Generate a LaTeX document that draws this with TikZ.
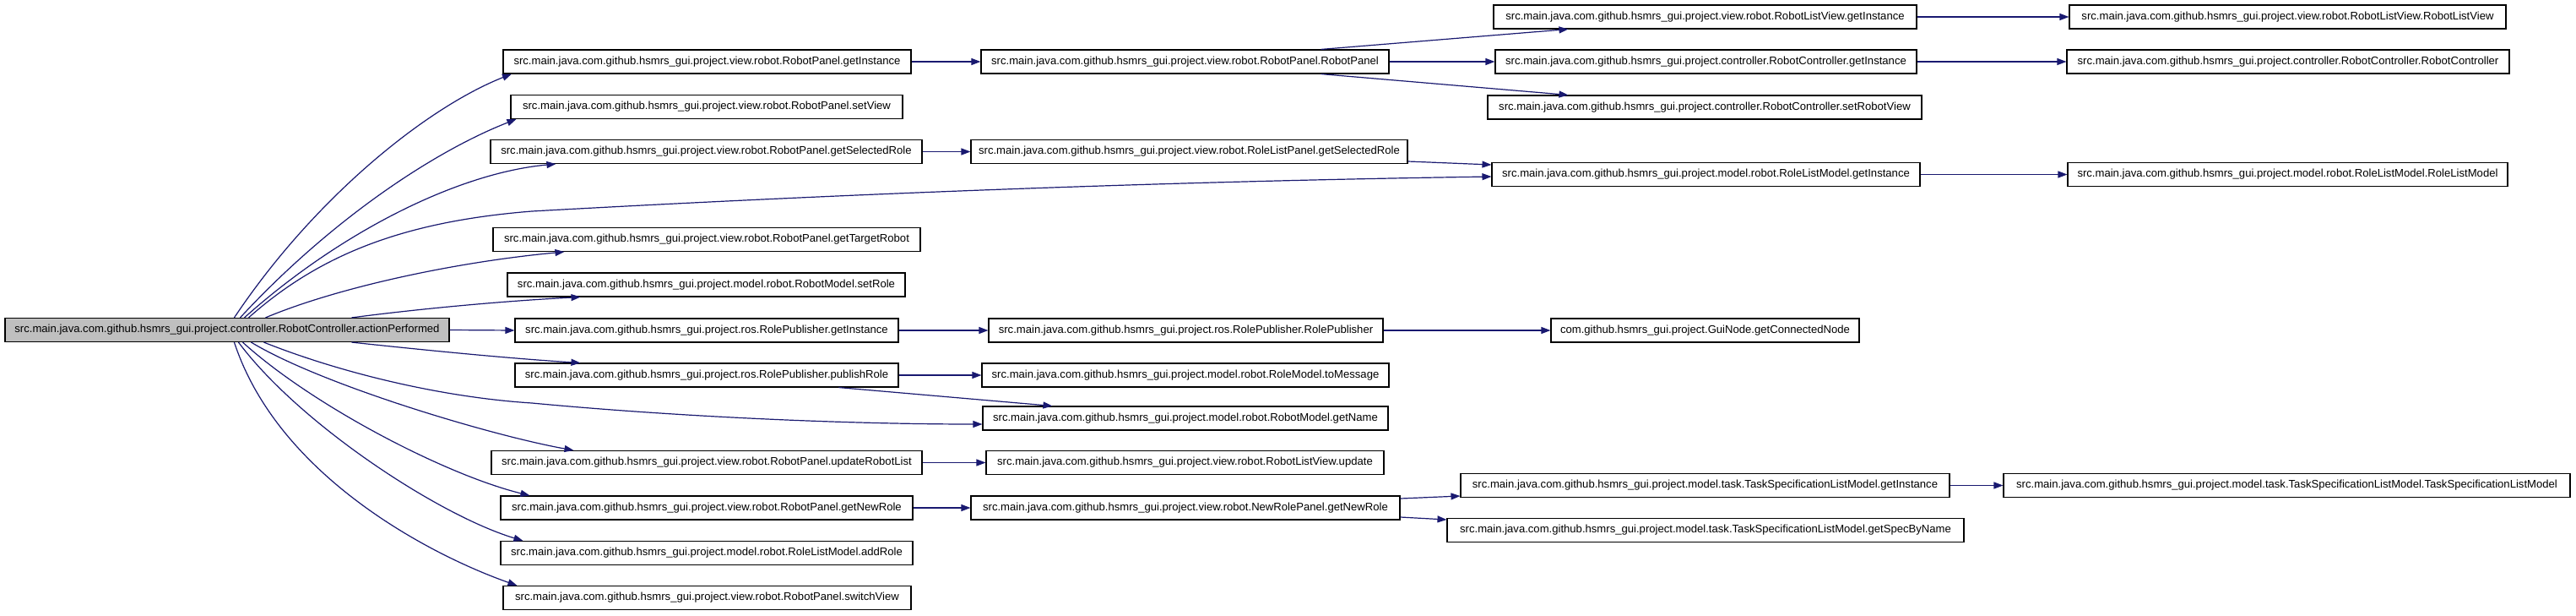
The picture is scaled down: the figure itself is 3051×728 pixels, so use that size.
\documentclass[tikz,border=0pt]{standalone}
\usepackage{fontspec}
\setmainfont{Liberation Sans}
\usetikzlibrary{arrows.meta}
\definecolor{edgecol}{HTML}{191970}
\definecolor{rootfill}{HTML}{BFBFBF}
\begin{document}
\begin{tikzpicture}[x=1pt,y=-1pt,
  fnbox/.style={draw=black, line width=1.1pt, fill=white, minimum height=28pt, inner sep=0pt,
    font=\fontsize{13.1pt}{15pt}\selectfont},
  rootbox/.style={fnbox, fill=rootfill},
  call/.style={draw=edgecol, line width=1.2pt, -{Triangle[length=11pt,width=8pt]}}]
\useasboundingbox[fill=white] (0,0) rectangle (3051,728);

% root
\node[rootbox, minimum width=526pt] (root) at (269,390.5) {src.main.java.com.github.hsmrs\_gui.project.controller.RobotController.actionPerformed};

% column 2
\node[fnbox, minimum width=483pt] (A1) at (837.5,73) {src.main.java.com.github.hsmrs\_gui.project.view.robot.RobotPanel.getInstance};
\node[fnbox, minimum width=464pt] (A2) at (837,126.5) {src.main.java.com.github.hsmrs\_gui.project.view.robot.RobotPanel.setView};
\node[fnbox, minimum width=511pt] (A3) at (836.5,179.5) {src.main.java.com.github.hsmrs\_gui.project.view.robot.RobotPanel.getSelectedRole};
\node[fnbox, minimum width=506pt] (A4) at (837,283.5) {src.main.java.com.github.hsmrs\_gui.project.view.robot.RobotPanel.getTargetRobot};
\node[fnbox, minimum width=471pt] (A5) at (836.5,337) {src.main.java.com.github.hsmrs\_gui.project.model.robot.RobotModel.setRole};
\node[fnbox, minimum width=454pt] (A6) at (837,391) {src.main.java.com.github.hsmrs\_gui.project.ros.RolePublisher.getInstance};
\node[fnbox, minimum width=454pt] (A7) at (837,444) {src.main.java.com.github.hsmrs\_gui.project.ros.RolePublisher.publishRole};
\node[fnbox, minimum width=510pt] (A8) at (837,547.5) {src.main.java.com.github.hsmrs\_gui.project.view.robot.RobotPanel.updateRobotList};
\node[fnbox, minimum width=488pt] (A9) at (837,601) {src.main.java.com.github.hsmrs\_gui.project.view.robot.RobotPanel.getNewRole};
\node[fnbox, minimum width=488pt] (A10) at (837,654.5) {src.main.java.com.github.hsmrs\_gui.project.model.robot.RoleListModel.addRole};
\node[fnbox, minimum width=483pt] (A11) at (837.5,707.5) {src.main.java.com.github.hsmrs\_gui.project.view.robot.RobotPanel.switchView};

% column 3
\node[fnbox, minimum width=483pt] (B1) at (1403.5,73) {src.main.java.com.github.hsmrs\_gui.project.view.robot.RobotPanel.RobotPanel};
\node[fnbox, minimum width=517pt] (B2) at (1408.5,179.5) {src.main.java.com.github.hsmrs\_gui.project.view.robot.RoleListPanel.getSelectedRole};
\node[fnbox, minimum width=467pt] (B3) at (1404.5,391) {src.main.java.com.github.hsmrs\_gui.project.ros.RolePublisher.RolePublisher};
\node[fnbox, minimum width=482pt] (B4) at (1404,444) {src.main.java.com.github.hsmrs\_gui.project.model.robot.RoleModel.toMessage};
\node[fnbox, minimum width=480pt] (B5) at (1404,495) {src.main.java.com.github.hsmrs\_gui.project.model.robot.RobotModel.getName};
\node[fnbox, minimum width=471pt] (B6) at (1403.5,547.5) {src.main.java.com.github.hsmrs\_gui.project.view.robot.RobotListView.update};
\node[fnbox, minimum width=508pt] (B7) at (1404,601) {src.main.java.com.github.hsmrs\_gui.project.view.robot.NewRolePanel.getNewRole};

% column 4
\node[fnbox, minimum width=501pt] (C1) at (2019.5,20) {src.main.java.com.github.hsmrs\_gui.project.view.robot.RobotListView.getInstance};
\node[fnbox, minimum width=499pt] (C2) at (2020.5,73) {src.main.java.com.github.hsmrs\_gui.project.controller.RobotController.getInstance};
\node[fnbox, minimum width=514pt] (C3) at (2019,127) {src.main.java.com.github.hsmrs\_gui.project.controller.RobotController.setRobotView};
\node[fnbox, minimum width=507pt] (C4) at (2020.5,206.5) {src.main.java.com.github.hsmrs\_gui.project.model.robot.RoleListModel.getInstance};
\node[fnbox, minimum width=365pt] (C5) at (2019.5,391) {com.github.hsmrs\_gui.project.GuiNode.getConnectedNode};
\node[fnbox, minimum width=579pt] (C6) at (2019.5,574.5) {src.main.java.com.github.hsmrs\_gui.project.model.task.TaskSpecificationListModel.getInstance};
\node[fnbox, minimum width=612pt] (C7) at (2020,627.5) {src.main.java.com.github.hsmrs\_gui.project.model.task.TaskSpecificationListModel.getSpecByName};

% column 5
\node[fnbox, minimum width=517pt] (D1) at (2709.5,20) {src.main.java.com.github.hsmrs\_gui.project.view.robot.RobotListView.RobotListView};
\node[fnbox, minimum width=524pt] (D2) at (2710,73) {src.main.java.com.github.hsmrs\_gui.project.controller.RobotController.RobotController};
\node[fnbox, minimum width=521pt] (D3) at (2709.5,206.5) {src.main.java.com.github.hsmrs\_gui.project.model.robot.RoleListModel.RoleListModel};
\node[fnbox, minimum width=671pt] (D4) at (2708.5,574.5) {src.main.java.com.github.hsmrs\_gui.project.model.task.TaskSpecificationListModel.TaskSpecificationListModel};

% root fan, upper side
\draw[call] ([xshift=272pt]root.north west) .. controls (373,233) and (506,127) .. ([xshift=10.5pt]A1.south west);
\draw[call] ([xshift=279pt]root.north west) .. controls (390,262) and (512,180) .. ([xshift=7pt]A2.south west);
\draw[call] ([xshift=284pt]root.north west) .. controls (400,277) and (540,205) .. ([xshift=78pt]A3.south west);
\draw[call] ([xshift=289pt]root.north west) .. controls (380,300) and (480,262) .. (630,250)
   .. controls (900,235) and (1300,216) .. ([yshift=-2.5pt]C4.west);
\draw[call] ([xshift=309pt]root.north west) .. controls (400,340) and (540,310) .. ([xshift=85pt]A4.south west);
\draw[call] ([xshift=411pt]root.north west) .. controls (500,365) and (600,356) .. ([xshift=87pt]A5.south west);
\draw[call] (root.east) -- (A6.west);
% root fan, lower side
\draw[call] ([xshift=411pt]root.south west) .. controls (500,414) and (600,424) .. ([xshift=78pt]A7.north west);
\draw[call] ([xshift=307pt]root.south west) .. controls (400,440) and (520,470) .. (630,477)
   .. controls (800,493) and (1000,502) .. ([yshift=-7pt]B5.west);
\draw[call] ([xshift=292pt]root.south west) .. controls (380,455) and (580,515) .. ([xshift=98pt]A8.north west);
\draw[call] ([xshift=282pt]root.south west) .. controls (370,480) and (528,562) .. ([xshift=35pt]A9.north west);
\draw[call] ([xshift=277pt]root.south west) .. controls (355,502) and (520,610) .. ([xshift=27pt]A10.north west);
\draw[call] ([xshift=272pt]root.south west) .. controls (330,565) and (513,658) .. ([xshift=17pt]A11.north west);

% further calls
\draw[call] (A1.east) -- (B1.west);
\draw[call] ([xshift=403pt]B1.north west) -- ([xshift=89pt]C1.south west);
\draw[call] (B1.east) -- (C2.west);
\draw[call] ([xshift=403pt]B1.south west) -- ([xshift=96pt]C3.north west);
\draw[call] (C1.east) -- (D1.west);
\draw[call] (C2.east) -- (D2.west);
\draw[call] (A3.east) -- (B2.west);
\draw[call] ([yshift=-11.5pt]B2.east) -- ([yshift=11.5pt]C4.west);
\draw[call] (C4.east) -- (D3.west);
\draw[call] (A6.east) -- (B3.west);
\draw[call] (B3.east) -- (C5.west);
\draw[call] (A7.east) -- (B4.west);
\draw[call] ([xshift=384pt]A7.south west) -- ([xshift=83pt]B5.north west);
\draw[call] (A8.east) -- (B6.west);
\draw[call] (A9.east) -- (B7.west);
\draw[call] ([yshift=11pt]B7.east) -- ([yshift=-12.5pt]C6.west);
\draw[call] ([yshift=-11pt]B7.east) -- ([yshift=12.5pt]C7.west);
\draw[call] (C6.east) -- (D4.west);
\end{tikzpicture}
\end{document}
